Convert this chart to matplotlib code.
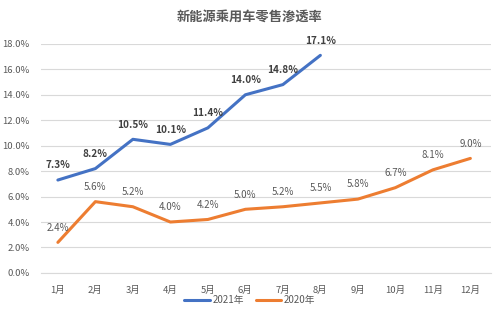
import matplotlib
matplotlib.use("Agg")
import matplotlib.pyplot as plt
from matplotlib.ticker import FuncFormatter

plt.rcParams['font.family'] = ['Noto Sans CJK SC', 'DejaVu Sans']

# data
months = ["1月", "2月", "3月", "4月", "5月", "6月", "7月", "8月", "9月", "10月", "11月", "12月"]
rate_2021 = [7.3, 8.2, 10.5, 10.1, 11.4, 14.0, 14.8, 17.1]
rate_2020 = [2.4, 5.6, 5.2, 4.0, 4.2, 5.0, 5.2, 5.5, 5.8, 6.7, 8.1, 9.0]

blue = "#4472C4"
orange = "#ED7D31"

fig = plt.figure(figsize=(5, 3.3), dpi=100)
ax = fig.add_axes([0.082, 0.173, 0.9, 0.694])

x21 = range(len(rate_2021))
x20 = range(len(rate_2020))
ax.plot(x21, rate_2021, color=blue, lw=2.2, label="2021年", solid_capstyle="round")
ax.plot(x20, rate_2020, color=orange, lw=2.2, label="2020年", solid_capstyle="round")

for i, v in zip(x21, rate_2021):
    ax.annotate(f"{v:.1f}%", (i, v), xytext=(0, 7), textcoords="offset points",
                ha="center", va="bottom", fontsize=7.2, fontweight="bold", color="#404040")
for i, v in zip(x20, rate_2020):
    ax.annotate(f"{v:.1f}%", (i, v), xytext=(0, 7), textcoords="offset points",
                ha="center", va="bottom", fontsize=7, color="#595959")

ax.set_xlim(-0.45, 11.55)
ax.set_ylim(0, 18)
ax.set_yticks(range(0, 19, 2))
ax.yaxis.set_major_formatter(FuncFormatter(lambda v, p: f"{v:.1f}%"))
ax.set_xticks(range(len(months)))
ax.set_xticklabels(months)
ax.tick_params(axis="both", length=0, labelsize=6.8, labelcolor="#595959")
ax.tick_params(axis="x", pad=9)
ax.tick_params(axis="y", pad=8)
ax.grid(axis="y", color="#D9D9D9", lw=0.8)
ax.set_axisbelow(True)
for s in ["top", "right", "left"]:
    ax.spines[s].set_visible(False)
ax.spines["bottom"].set_color("#D9D9D9")

fig.text(0.5, 0.948, "新能源乘用车零售渗透率", ha="center", va="center",
         fontsize=9.5, fontweight="bold", color="#595959")

fig.legend(loc="center", bbox_to_anchor=(0.5, 0.09), ncol=2, frameon=False,
           fontsize=7, labelcolor="#595959", handlelength=2.6, handletextpad=0.3,
           columnspacing=1.2)

fig.savefig("out.png", dpi=100)
